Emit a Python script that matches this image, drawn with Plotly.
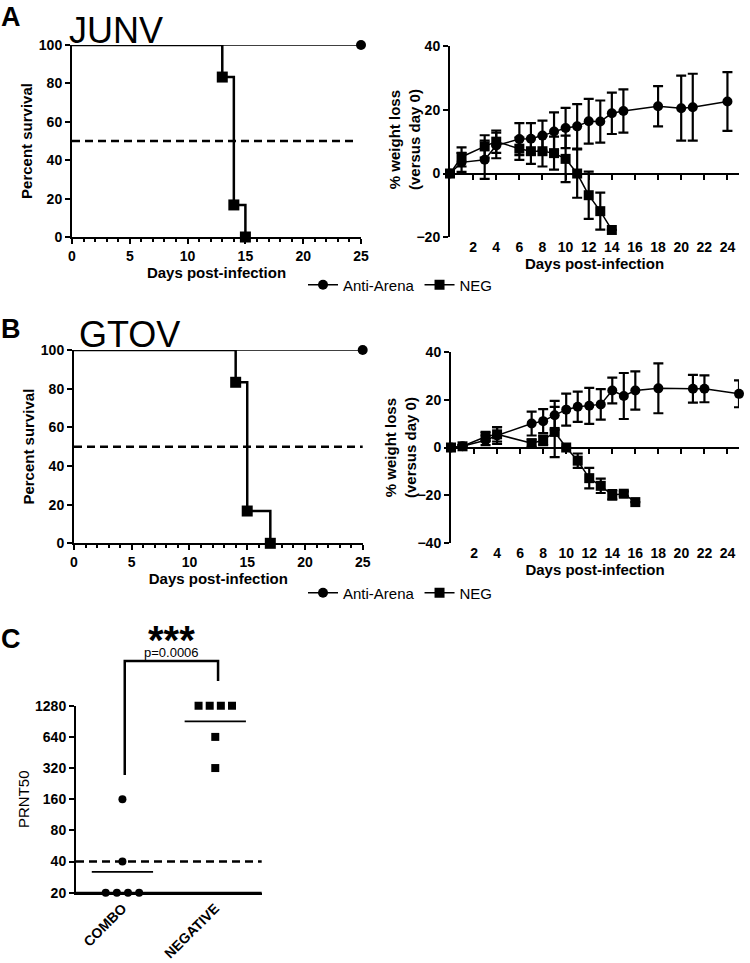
import plotly.graph_objects as go
import numpy as np

FONT = "Liberation Sans, Arial, sans-serif"
W, H = 750, 963

# ---------------- DATA ----------------
# Panel A - JUNV survival
junv_surv_anti_days = [0, 25]
junv_surv_anti_pct = [100, 100]
junv_surv_neg_days = [0, 13, 14, 15]
junv_surv_neg_pct = [100, 83.3, 16.7, 0]

# Panel A - JUNV weight
junv_wt_anti_days = [0, 1, 3, 4, 6, 7, 8, 9, 10, 11, 12, 13, 14, 15, 18, 20, 21, 24]
junv_wt_anti_mean = [0, 3.5, 4.3, 8.8, 10.8, 10.9, 11.9, 13.2, 14.3, 14.8, 16.4, 16.3, 18.9, 19.6, 21.1, 20.5, 20.8, 22.6]
junv_wt_anti_err = [0, 3, 6, 4, 5, 4.9, 4.7, 6, 6.3, 7, 7, 6.6, 6.5, 6.8, 6.3, 10.2, 10.5, 9.2]
junv_wt_neg_days = [0, 1, 3, 4, 6, 7, 8, 9, 10, 11, 12, 13, 14]
junv_wt_neg_mean = [0, 5.2, 8.5, 10.0, 7.8, 7.0, 7.0, 6.4, 4.6, 0, -6.8, -11.8, -17.7]
junv_wt_neg_err = [0, 3, 3.5, 3.5, 3.5, 4, 4.8, 5.2, 7.3, 7.6, 7.4, 5.8, 0]

# Panel B - GTOV survival
gtov_surv_anti_days = [0, 25]
gtov_surv_anti_pct = [100, 100]
gtov_surv_neg_days = [0, 14, 15, 17]
gtov_surv_neg_pct = [100, 83.3, 16.7, 0]

# Panel B - GTOV weight
gtov_wt_anti_days = [0, 1, 3, 4, 7, 8, 9, 10, 11, 12, 13, 14, 15, 16, 18, 21, 22, 25]
gtov_wt_anti_mean = [0, 0.5, 3.0, 5.0, 10, 11, 13.5, 15.8, 17, 17.4, 18, 23.8, 21.5, 23.8, 24.7, 24.5, 24.5, 22.4]
gtov_wt_anti_err = [0, 0.5, 2, 3.5, 5, 5, 6, 6.7, 6.3, 7.5, 6.4, 5.4, 9.6, 8, 10.4, 5.8, 5.6, 5.6]
gtov_wt_neg_days = [0, 1, 3, 4, 7, 8, 9, 10, 11, 12, 13, 14, 15, 16]
gtov_wt_neg_mean = [0, 0.5, 4.5, 5.5, 1.8, 3.0, 6.5, 0, -5.5, -12.8, -16, -19.8, -19.3, -22.8]
gtov_wt_neg_err = [0, 0.5, 2, 3, 1.5, 2, 10.5, 0, 3, 4.3, 3, 2, 1, 0]

# Panel C - PRNT50
prnt_groups = ["COMBO", "NEGATIVE"]
prnt_combo = [160, 40, 20, 20, 20, 20]
prnt_negative = [1280, 1280, 1280, 1280, 640, 320]
prnt_ticks = [20, 40, 80, 160, 320, 640, 1280]
detection_limit = 40
survival_ref = 50

weight_ticks = [2, 4, 6, 8, 10, 12, 14, 16, 18, 20, 22, 24]

# ---------------- HELPERS ----------------
def px_x(p):
    return p / W

def px_y(p):
    return 1 - p / H

BLACK = "black"
tickfont = dict(family=FONT, size=14, color=BLACK, weight="bold")
titlefont = dict(family=FONT, size=15, color=BLACK, weight="bold")

fig = go.Figure()

def survival(days_anti, pct_anti, days_neg, pct_neg, xa, ya):
    fig.add_trace(go.Scatter(
        x=days_anti, y=pct_anti, mode="lines", xaxis=xa, yaxis=ya,
        line=dict(color=BLACK, width=1.5), showlegend=False))
    fig.add_trace(go.Scatter(
        x=days_anti[-1:], y=pct_anti[-1:], mode="markers", xaxis=xa, yaxis=ya,
        marker=dict(symbol="circle", size=10, color=BLACK, opacity=1),
        showlegend=False, cliponaxis=False))
    fig.add_trace(go.Scatter(
        x=days_neg, y=pct_neg, mode="lines", xaxis=xa, yaxis=ya,
        line=dict(color=BLACK, width=2.5, shape="hv"), showlegend=False))
    fig.add_trace(go.Scatter(
        x=days_neg[1:], y=pct_neg[1:], mode="markers", xaxis=xa, yaxis=ya,
        marker=dict(symbol="square", size=11, color=BLACK, opacity=1),
        showlegend=False, cliponaxis=False))

def weight(d_a, m_a, e_a, d_n, m_n, e_n, xa, ya, leg, xz):
    fig.add_trace(go.Scatter(
        x=d_a, y=m_a, mode="lines+markers", xaxis=xa, yaxis=ya, name="Anti-Arena",
        line=dict(color=BLACK, width=1.5),
        marker=dict(symbol="circle", size=10, color=BLACK),
        error_y=dict(type="data", array=e_a, color=BLACK, thickness=2.2, width=5),
        legend=leg, cliponaxis=False))
    fig.add_trace(go.Scatter(
        x=d_n, y=m_n, mode="lines+markers", xaxis=xa, yaxis=ya, name="NEG",
        line=dict(color=BLACK, width=1.5),
        marker=dict(symbol="square", size=10, color=BLACK),
        error_y=dict(type="data", array=e_n, color=BLACK, thickness=2.2, width=5),
        legend=leg, cliponaxis=False))
    # empty trace so that the zero-line axis is drawn
    fig.add_trace(go.Scatter(x=[], y=[], xaxis=xz, yaxis=ya, showlegend=False))

survival(junv_surv_anti_days, junv_surv_anti_pct, junv_surv_neg_days, junv_surv_neg_pct, "x", "y")
weight(junv_wt_anti_days, junv_wt_anti_mean, junv_wt_anti_err,
       junv_wt_neg_days, junv_wt_neg_mean, junv_wt_neg_err, "x2", "y2", "legend", "x3")
survival(gtov_surv_anti_days, gtov_surv_anti_pct, gtov_surv_neg_days, gtov_surv_neg_pct, "x4", "y4")
weight(gtov_wt_anti_days, gtov_wt_anti_mean, gtov_wt_anti_err,
       gtov_wt_neg_days, gtov_wt_neg_mean, gtov_wt_neg_err, "x5", "y5", "legend2", "x6")

# Panel C points with spreading of identical values
def spread(vals, center, step=0.12):
    xs = []
    vals = list(vals)
    seen = {}
    counts = {v: vals.count(v) for v in vals}
    for v in vals:
        i = seen.get(v, 0)
        seen[v] = i + 1
        n = counts[v]
        xs.append(center + (i - (n - 1) / 2) * step)
    return xs

for gi, (vals, sym) in enumerate([(prnt_combo, "circle"), (prnt_negative, "square")]):
    fig.add_trace(go.Scatter(
        x=spread(vals, gi), y=vals, mode="markers", xaxis="x7", yaxis="y7",
        marker=dict(symbol=sym, size=8, color=BLACK), showlegend=False, cliponaxis=False))
    gmean = float(np.exp(np.mean(np.log(vals))))
    fig.add_trace(go.Scatter(
        x=[gi - 0.33, gi + 0.33], y=[gmean, gmean], mode="lines", xaxis="x7", yaxis="y7",
        line=dict(color=BLACK, width=1.8), showlegend=False))

# ---------------- AXES ----------------
def surv_axes(xname, yname, xdom, ydom):
    fig.layout[xname] = dict(
        domain=xdom, range=[0, 25], tickvals=[0, 5, 10, 15, 20, 25], ticks="outside",
        ticklen=5, tickwidth=2, tickcolor=BLACK, showline=True, linewidth=2, linecolor=BLACK,
        minor=dict(dtick=1, ticks="outside", ticklen=3, tickwidth=1.5, tickcolor=BLACK),
        showgrid=False, zeroline=False, tickfont=tickfont, automargin=False,
        anchor=yname.replace("yaxis", "y"),
        title=dict(text="Days post-infection", font=titlefont, standoff=0))
    fig.layout[yname] = dict(
        domain=ydom, range=[0, 100], tickvals=[0, 20, 40, 60, 80, 100], ticks="outside",
        ticklen=5, tickwidth=2, tickcolor=BLACK, showline=True, linewidth=2, linecolor=BLACK,
        showgrid=False, zeroline=False, tickfont=tickfont, automargin=False,
        anchor=xname.replace("xaxis", "x"),
        title=dict(text="Percent survival", font=titlefont, standoff=3))

def weight_axes(xname, zname, yname, xdom, ydom, yrange, ytickvals):
    frac = (0 - yrange[0]) / (yrange[1] - yrange[0])
    zpos = ydom[0] + frac * (ydom[1] - ydom[0])
    fig.layout[xname] = dict(
        domain=xdom, range=[0, 25], tickvals=weight_ticks, ticks="", showline=False,
        showgrid=False, zeroline=False, tickfont=tickfont, automargin=False,
        anchor=yname.replace("yaxis", "y"),
        title=dict(text="Days post-infection", font=titlefont, standoff=0))
    fig.layout[zname] = dict(
        domain=xdom, range=[0, 25], tickvals=weight_ticks, ticks="outside", ticklen=5,
        tickwidth=2, tickcolor=BLACK, showline=True, linewidth=2, linecolor=BLACK,
        showticklabels=False, showgrid=False, zeroline=False, automargin=False,
        overlaying=xname.replace("xaxis", "x"), anchor="free", position=zpos)
    fig.layout[yname] = dict(
        domain=ydom, range=yrange, tickvals=ytickvals, ticks="outside",
        ticklen=5, tickwidth=2, tickcolor=BLACK, showline=True, linewidth=2, linecolor=BLACK,
        showgrid=False, zeroline=False, tickfont=tickfont, automargin=False,
        anchor=xname.replace("xaxis", "x"))

surv_axes("xaxis", "yaxis", [px_x(72), px_x(361)], [px_y(237), px_y(45)])
weight_axes("xaxis2", "xaxis3", "yaxis2", [px_x(450), px_x(739)], [px_y(237.3), px_y(46)],
            [-20, 40], [-20, 0, 20, 40])
surv_axes("xaxis4", "yaxis4", [px_x(74), px_x(362.7)], [px_y(543.3), px_y(350)])
weight_axes("xaxis5", "xaxis6", "yaxis5", [px_x(451), px_x(739)], [px_y(543.3), px_y(351.7)],
            [-40, 40], [-40, -20, 0, 20, 40])

fig.layout["xaxis7"] = dict(
    domain=[px_x(76), px_x(261.7)], range=[-0.5, 1.5], tickvals=[0, 1], ticktext=prnt_groups,
    tickangle=-45, ticks="", showline=True, linewidth=2, linecolor=BLACK,
    showgrid=False, zeroline=False, ticklabelstandoff=0,
    tickfont=dict(family=FONT, size=14, color=BLACK, weight="bold"),
    automargin=False, anchor="y7")
fig.layout["yaxis7"] = dict(
    domain=[px_y(892.7), px_y(705.7)], type="log",
    range=[np.log10(prnt_ticks[0] * 0.999), np.log10(prnt_ticks[-1] * 1.001)],
    tickvals=prnt_ticks, ticktext=[str(t) for t in prnt_ticks], ticks="outside",
    ticklen=5, tickwidth=2, tickcolor=BLACK, showline=True, linewidth=2, linecolor=BLACK,
    showgrid=False, zeroline=False, tickfont=tickfont, automargin=False, anchor="x7",
    title=dict(text="PRNT50", font=dict(family=FONT, size=15, color=BLACK), standoff=2))

# ---------------- SHAPES ----------------
dash = "8px,5px"
shapes = [
    dict(type="line", xref="x", yref="y", x0=0, x1=24.5, y0=survival_ref, y1=survival_ref,
         line=dict(color=BLACK, width=2.5, dash=dash)),
    dict(type="line", xref="x4", yref="y4", x0=0, x1=26.2, y0=survival_ref, y1=survival_ref,
         line=dict(color=BLACK, width=2.5, dash=dash)),
    dict(type="line", xref="x7 domain", yref="y7", x0=0, x1=1, y0=detection_limit, y1=detection_limit,
         line=dict(color=BLACK, width=2.5, dash=dash)),
    # x-axis baseline of panel C
    dict(type="line", xref="x7 domain", yref="y7 domain", x0=0, x1=1, y0=0, y1=0,
         line=dict(color=BLACK, width=2), layer="below"),
    dict(type="path", xref="x7", yref="y7 domain",
         path="M 0.025 0.629 L 0.025 1.239 L 1.03 1.239 L 1.03 1.132",
         line=dict(color=BLACK, width=2.5)),
]
fig.update_layout(shapes=shapes)

# ---------------- ANNOTATIONS ----------------
ann = []
def label(text, x, y, size, bold=False, xanchor="left", angle=0):
    ann.append(dict(text=text, x=x, y=y, xref="paper", yref="paper", xanchor=xanchor,
                    yanchor="middle", showarrow=False, textangle=angle,
                    font=dict(family=FONT, size=size, color=BLACK,
                              weight="bold" if bold else "normal")))

label("A", px_x(-1), px_y(17), 27, bold=True)
label("JUNV", px_x(67), px_y(31), 36)
label("B", px_x(-1), px_y(329), 27, bold=True)
label("GTOV", px_x(77), px_y(334), 36)
label("C", px_x(-1), px_y(639), 27, bold=True)
label("% weight loss<br>(versus day 0)", px_x(405), px_y(140), 15, bold=True,
      xanchor="center", angle=-90)
label("% weight loss<br>(versus day 0)", px_x(401), px_y(447), 15, bold=True,
      xanchor="center", angle=-90)
ann.append(dict(text="***", x=0.525, y=px_y(640), xref="x7", yref="paper", xanchor="center",
                yanchor="middle", showarrow=False,
                font=dict(family=FONT, size=40, color=BLACK, weight="bold")))
ann.append(dict(text="p=0.0006", x=0.525, y=px_y(652), xref="x7", yref="paper",
                xanchor="center", yanchor="middle", showarrow=False,
                font=dict(family=FONT, size=13, color=BLACK)))
fig.update_layout(annotations=ann)

# ---------------- LAYOUT ----------------
legfont = dict(family=FONT, size=15, color=BLACK)
fig.update_layout(
    width=W, height=H, margin=dict(l=0, r=0, t=0, b=0),
    paper_bgcolor="white", plot_bgcolor="white",
    font=dict(family=FONT, color=BLACK),
    legend=dict(orientation="h", x=px_x(303), y=px_y(285), xanchor="left", yanchor="middle",
                font=legfont, bgcolor="rgba(0,0,0,0)", itemwidth=30, tracegroupgap=0),
    legend2=dict(orientation="h", x=px_x(303), y=px_y(593), xanchor="left", yanchor="middle",
                 font=legfont, bgcolor="rgba(0,0,0,0)", itemwidth=30, tracegroupgap=0),
)

fig.write_html("out.html", config={"displayModeBar": False},
               post_script="document.body.style.margin='0';document.body.style.padding='0';")
